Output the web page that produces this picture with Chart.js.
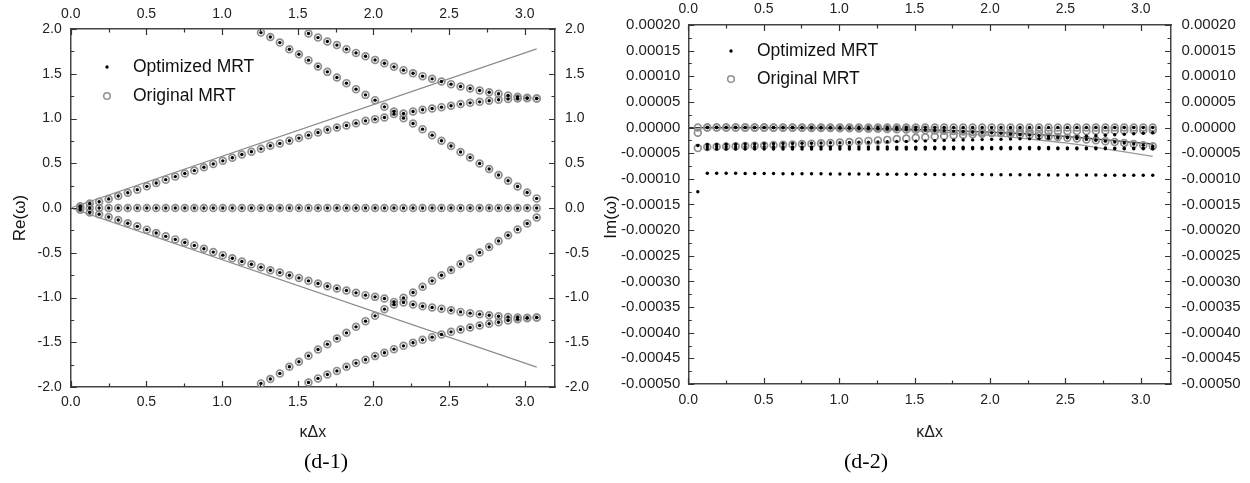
<!DOCTYPE html>
<html>
<head>
<meta charset="utf-8">
<script src="https://cdn.jsdelivr.net/npm/chart.js@4.4.1/dist/chart.umd.min.js"></script>
<style>
  body { margin: 0; background: #fff; width: 1250px; height: 483px; overflow: hidden; position: relative; }
  canvas { position: absolute; top: 0; }
  #reChart { left: 0; }
  #imChart { left: 595px; }
  .cap { position: absolute; top: 448px; font-family: 'Liberation Serif', 'Times New Roman', serif; font-size: 22px; color: #000; transform: translateX(-50%); white-space: nowrap; }
</style>
</head>
<body>
<canvas id="reChart" width="625" height="483"></canvas>
<canvas id="imChart" width="655" height="483"></canvas>
<div class="cap" style="left:326px">(d-1)</div>
<div class="cap" style="left:866px">(d-2)</div>
<script>
// wave numbers k*dx of the sampled points
const kValues = [0.063, 0.126, 0.188, 0.251, 0.314, 0.377, 0.440, 0.503, 0.565, 0.628,
  0.691, 0.754, 0.817, 0.880, 0.942, 1.005, 1.068, 1.131, 1.194, 1.257,
  1.319, 1.382, 1.445, 1.508, 1.571, 1.634, 1.696, 1.759, 1.822, 1.885,
  1.948, 2.011, 2.073, 2.136, 2.199, 2.262, 2.325, 2.388, 2.450, 2.513,
  2.576, 2.639, 2.702, 2.765, 2.827, 2.890, 2.953, 3.016, 3.079];

const xTicks = [0, 0.5, 1.0, 1.5, 2.0, 2.5, 3.0];
const reTicks = [-2, -1.5, -1, -0.5, 0, 0.5, 1, 1.5, 2];
const imTicks = [0.0002, 0.00015, 0.0001, 0.00005, 0, -0.00005, -0.0001, -0.00015, -0.0002,
  -0.00025, -0.0003, -0.00035, -0.0004, -0.00045, -0.0005];

// ---- Re(omega), panel d-1 ----
// branch values, first point is n (k = kValues[n-1])
const reZero = [0,0,0,0,0,0,0,0,0,0, 0,0,0,0,0,0,0,0,0,0, 0,0,0,0,0,0,0,0,0,0,
  0,0,0,0,0,0,0,0,0,0, 0,0,0,0,0,0,0,0,0];
const reUpperA = [0.02, 0.05, 0.07, 0.10, 0.134, 0.171, 0.205, 0.242, 0.28, 0.317,
  0.351, 0.385, 0.418, 0.455, 0.493, 0.527, 0.561, 0.598, 0.628, 0.661,
  0.695, 0.722, 0.751, 0.781, 0.814, 0.844, 0.874, 0.90, 0.921, 0.948,
  0.974, 0.993, 1.011, 1.049, 1.056, 1.078, 1.097, 1.112, 1.127, 1.142,
  1.161, 1.175, 1.186, 1.198, 1.209, 1.218, 1.223, 1.226, 1.224];
const reLowerA = [-0.02, -0.05, -0.07, -0.10, -0.134, -0.171, -0.205, -0.242, -0.28, -0.317,
  -0.351, -0.385, -0.418, -0.455, -0.493, -0.527, -0.561, -0.598, -0.628, -0.661,
  -0.695, -0.722, -0.751, -0.781, -0.814, -0.844, -0.874, -0.90, -0.921, -0.948,
  -0.974, -0.993, -1.011, -1.049, -1.056, -1.078, -1.097, -1.112, -1.127, -1.142,
  -1.161, -1.175, -1.186, -1.198, -1.209, -1.218, -1.223, -1.226, -1.224];
const reBFirst = 20;
const reUpperB = [1.96, 1.91, 1.848, 1.774, 1.718, 1.652, 1.581, 1.521, 1.458, 1.395,
  1.328, 1.264, 1.205, 1.13, 1.078, 1.004, 0.944, 0.881, 0.814, 0.751,
  0.692, 0.625, 0.565, 0.498, 0.435, 0.368, 0.305, 0.241, 0.174, 0.107];
const reLowerB = [-1.96, -1.91, -1.848, -1.774, -1.718, -1.652, -1.581, -1.521, -1.458, -1.395,
  -1.328, -1.264, -1.205, -1.13, -1.078, -1.004, -0.944, -0.881, -0.814, -0.751,
  -0.692, -0.625, -0.565, -0.498, -0.435, -0.368, -0.305, -0.241, -0.174, -0.107];
const reCFirst = 25;
const reUpperC = [1.949, 1.904, 1.86, 1.82, 1.775, 1.733, 1.696, 1.655, 1.618, 1.577,
  1.54, 1.506, 1.473, 1.443, 1.413, 1.384, 1.357, 1.335, 1.313, 1.294,
  1.276, 1.257, 1.242, 1.231, 1.223];
const reLowerC = [-1.949, -1.904, -1.86, -1.82, -1.775, -1.733, -1.696, -1.655, -1.618, -1.577,
  -1.54, -1.506, -1.473, -1.443, -1.413, -1.384, -1.357, -1.335, -1.313, -1.294,
  -1.276, -1.257, -1.242, -1.231, -1.223];
// sound-speed lines
const reLineK = [0, 3.079];
const reLineUpper = [0, 1.778];
const reLineLower = [0, -1.778];

// ---- Im(omega), panel d-2, in units of 1e-6 ----
const micro = 1e-6;
const imZero = [0,0,0,0,0,0,0,0,0,0, 0,0,0,0,0,0,0,0,0,0, 0,0,0,0,0,0,0,0,0,0,
  0,0,0,0,0,0,0,0,0,0, 0,0,0,0,0,0,0,0,0];
const imFalling = [-10, 0, 0, 0, 0, -0.1, -0.1, -0.1, -0.2, -0.3,
  -0.4, -0.5, -0.7, -0.8, -1.0, -1.2, -1.5, -1.8, -2.1, -2.5,
  -2.9, -3.3, -3.8, -4.3, -4.9, -5.5, -6.2, -6.9, -7.7, -8.5,
  -9.4, -10.3, -11.3, -12.4, -13.5, -14.7, -15.9, -17.2, -18.6, -20.0,
  -21.5, -23.1, -24.8, -26.5, -28.3, -30.2, -32.2, -34.3, -36.5];
const imRising = [-40, -38, -37.5, -37, -36.5, -36, -35.5, -35, -34, -33.5,
  -33, -32, -31.5, -30.5, -30, -29, -28, -27, -26, -25,
  -24, -22.5, -21.5, -20, -19, -17.5, -16.5, -15, -14, -13,
  -12, -11, -10, -9.5, -9, -8.5, -8, -7.5, -7, -7,
  -6.5, -6.5, -6, -6, -5.5, -5.5, -5, -5, -5];
// optimized-only bands start at n = 2
const imUpperBand = [-33, -33, -32.5, -32.5, -32, -32, -31.5, -31.5, -31, -31,
  -30.5, -30.5, -30, -29.5, -29.5, -29, -28.5, -28.5, -28, -27.5,
  -27, -27, -26.5, -26, -25.5, -25, -24.5, -24, -24, -23.5,
  -23, -23, -22.5, -22, -22, -21.5, -21, -20, -19, -18,
  -17, -16, -15, -14, -13, -12, -11, -10];
const imMidBand = [-37.5, -37.5, -37.5, -37.5, -37.5, -37.5, -37.5, -37.5, -37.5, -38,
  -38, -38, -38, -38, -38, -38, -38, -38, -38, -38,
  -38.5, -38.5, -38.5, -38.5, -38.5, -38.5, -38.5, -38.5, -39, -39,
  -39, -39, -39, -39, -39, -39, -39, -39.5, -39.5, -39.5,
  -39.5, -39.5, -39.5, -40, -40, -40, -40, -40];
const imLowBand = [-42, -42, -42, -42, -42, -42, -42, -42, -42, -42,
  -42, -42, -42, -42, -42, -42, -42, -42, -42, -42,
  -42, -42, -42, -42, -41.5, -41.5, -41.5, -41.5, -41.5, -41.5,
  -41.5, -41.5, -41.5, -41.5, -41.5, -41.5, -41.5, -41.5, -41.5, -41.5,
  -41.5, -41.5, -41.5, -41.5, -41.5, -41.5, -41.5, -41.5];
const imDeepBand = [-89, -89, -89, -89, -89.5, -89.5, -89.5, -89.5, -90, -90,
  -90, -90, -90, -90.5, -90.5, -90.5, -90.5, -90.5, -91, -91,
  -91, -91, -91, -91, -91.5, -91.5, -91.5, -91.5, -91.5, -91.5,
  -92, -92, -92, -92, -92, -92, -92.5, -92.5, -92.5, -92.5,
  -92.5, -92.5, -93, -93, -93, -93, -93, -93];
const imFirstColumn = [-35, -125];
// theory curves
const imLineK = [0, 0.25, 0.5, 0.75, 1.0, 1.25, 1.5, 1.75, 2.0, 2.25, 2.5, 2.75, 3.079];
const imLineDark = [0, -0.02, -0.1, -0.45, -1.1, -2.1, -3.7, -5.9, -8.8, -12.5, -17.2, -23.5, -32];
const imLineLight = [0, -0.03, -0.2, -0.8, -1.9, -3.8, -6.5, -10.3, -15.4, -22, -30, -41, -56];

function branch(values, firstN, scale = 1) {
  return values.map((v, i) => ({ x: kValues[firstN - 1 + i], y: v * scale }));
}
function curve(ks, values, scale = 1) {
  return ks.map((k, i) => ({ x: k, y: values[i] * scale }));
}

Chart.defaults.font.family = "'Liberation Sans', Arial, sans-serif";
Chart.defaults.color = '#222';

const dotStyle = { pointRadius: 1.7, pointBackgroundColor: '#000', pointBorderWidth: 0, pointBorderColor: '#000' };
const ringStyle = { pointRadius: 3.4, pointBackgroundColor: 'rgba(255,255,255,0)', pointBorderColor: '#8f8f8f', pointBorderWidth: 1.7 };

// frame ticks (inward), legend and the rotated side titles
const overlay = {
  id: 'overlay',
  afterDatasetsDraw(chart, args, o) {
    const { ctx, chartArea: a, scales } = chart;
    ctx.save();
    ctx.strokeStyle = '#333';
    ctx.lineWidth = 1.2;
    const mids = arr => arr.slice(1).map((v, i) => (v + arr[i]) / 2);
    const xMarks = o.xMajor.map(v => [v, 6]).concat(mids(o.xMajor).map(v => [v, 3.5]));
    const yMarks = o.yMajor.map(v => [v, 6]).concat(mids(o.yMajor).map(v => [v, 3.5]));
    ctx.beginPath();
    xMarks.forEach(([v, len]) => {
      const px = Math.round(scales.x.getPixelForValue(v)) + 0.5;
      ctx.moveTo(px, a.bottom); ctx.lineTo(px, a.bottom - len);
      ctx.moveTo(px, a.top); ctx.lineTo(px, a.top + len);
    });
    yMarks.forEach(([v, len]) => {
      const py = Math.round(scales.y.getPixelForValue(v)) + 0.5;
      ctx.moveTo(a.left, py); ctx.lineTo(a.left + len, py);
      ctx.moveTo(a.right, py); ctx.lineTo(a.right - len, py);
    });
    ctx.stroke();

    // legend
    const lg = o.legend;
    ctx.fillStyle = '#000';
    ctx.beginPath(); ctx.arc(lg.x, lg.y1, 1.7, 0, Math.PI * 2); ctx.fill();
    ctx.strokeStyle = '#8f8f8f'; ctx.lineWidth = 1.5;
    ctx.beginPath(); ctx.arc(lg.x, lg.y2, 3.3, 0, Math.PI * 2); ctx.stroke();
    ctx.fillStyle = '#111';
    ctx.font = "17.5px 'Liberation Sans', Arial, sans-serif";
    ctx.textBaseline = 'middle';
    ctx.textAlign = 'left';
    ctx.fillText('Optimized MRT', lg.textX, lg.y1);
    ctx.fillText('Original MRT', lg.textX, lg.y2);

    // rotated titles
    ctx.font = "17px 'Liberation Sans', Arial, sans-serif";
    ctx.textAlign = 'center';
    o.sideTitles.forEach(t => {
      ctx.save();
      ctx.translate(t.x, t.y);
      ctx.rotate(-Math.PI / 2);
      ctx.fillText(t.text, 0, 0);
      ctx.restore();
    });
    ctx.restore();
  }
};

function makeScales(cfg) {
  const border = { display: true, color: '#444', width: 1.5 };
  const grid = { display: false, drawTicks: false };
  const xCommon = {
    type: 'linear', min: 0, max: cfg.xMax, grid, border,
    afterBuildTicks: s => { s.ticks = xTicks.map(v => ({ value: v })); }
  };
  const yCommon = {
    type: 'linear', min: cfg.yMin, max: cfg.yMax, grid, border,
    afterBuildTicks: s => { s.ticks = cfg.yTicks.map(v => ({ value: v })); }
  };
  const xLabel = { font: { size: 14 }, color: '#222', maxRotation: 0, autoSkip: false, callback: v => v.toFixed(1) };
  const yLabel = { font: { size: cfg.yFont }, color: '#222', autoSkip: false, callback: v => v.toFixed(cfg.yDigits) };
  return {
    x: Object.assign({}, xCommon, {
      position: 'bottom',
      ticks: Object.assign({ padding: cfg.bottomPad }, xLabel),
      title: { display: true, text: 'κΔx', font: { size: 16 }, color: '#222', padding: { top: 0, bottom: 41 } },
      afterFit: s => { s.height = cfg.bottomH; }
    }),
    x2: Object.assign({}, xCommon, {
      position: 'top',
      ticks: Object.assign({ padding: cfg.topPad }, xLabel),
      afterFit: s => { s.height = cfg.topH; }
    }),
    y: Object.assign({}, yCommon, {
      position: 'left',
      ticks: Object.assign({ padding: cfg.leftPad }, yLabel),
      afterFit: s => { s.width = cfg.leftW; }
    }),
    y2: Object.assign({}, yCommon, {
      position: 'right',
      ticks: Object.assign({ padding: cfg.rightPad }, yLabel),
      afterFit: s => { s.width = cfg.rightW; }
    })
  };
}

// panel d-1
const reBranches = [
  branch(reZero, 1), branch(reUpperA, 1), branch(reLowerA, 1),
  branch(reUpperB, reBFirst), branch(reLowerB, reBFirst),
  branch(reUpperC, reCFirst), branch(reLowerC, reCFirst)
].flat();

new Chart(document.getElementById('reChart'), {
  type: 'scatter',
  data: {
    datasets: [
      Object.assign({ label: 'Optimized MRT', data: reBranches, order: 1 }, dotStyle),
      Object.assign({ label: 'Original MRT', data: reBranches, order: 2 }, ringStyle),
      { type: 'line', label: 'upper', data: curve(reLineK, reLineUpper), borderColor: '#8a8a8a', borderWidth: 1.2, pointRadius: 0, order: 3 },
      { type: 'line', label: 'lower', data: curve(reLineK, reLineLower), borderColor: '#8a8a8a', borderWidth: 1.2, pointRadius: 0, order: 3 }
    ]
  },
  options: {
    responsive: false,
    animation: false,
    events: [],
    devicePixelRatio: 1,
    layout: { padding: 0 },
    scales: makeScales({ xMax: 3.2, yMin: -2, yMax: 2, yTicks: reTicks, yDigits: 1, yFont: 14,
      leftW: 70.7, rightW: 70, topH: 29, bottomH: 96, leftPad: 9, rightPad: 10, bottomPad: 7, topPad: 6 }),
    plugins: {
      legend: { display: false },
      tooltip: { enabled: false },
      overlay: {
        xMajor: xTicks, yMajor: reTicks,
        legend: { x: 107, y1: 67, y2: 96, textX: 133 },
        sideTitles: [{ text: 'Re(ω)', x: 20, y: 218 }, { text: 'Im(ω)', x: 611, y: 217 }]
      }
    }
  },
  plugins: [overlay]
});

// panel d-2
const imOriginal = [
  branch(imZero, 1, micro), branch(imFalling, 1, micro), branch(imRising, 1, micro)
].flat();
const imOptimized = [
  branch(imZero.slice(1), 2, micro), branch(imFalling.slice(1), 2, micro),
  branch(imUpperBand, 2, micro), branch(imMidBand, 2, micro),
  branch(imLowBand, 2, micro), branch(imDeepBand, 2, micro),
  imFirstColumn.map(v => ({ x: kValues[0], y: v * micro }))
].flat();

new Chart(document.getElementById('imChart'), {
  type: 'scatter',
  data: {
    datasets: [
      Object.assign({ label: 'Optimized MRT', data: imOptimized, order: 1 }, dotStyle),
      Object.assign({ label: 'Original MRT', data: imOriginal, order: 2 }, ringStyle),
      { type: 'line', label: 'theory 1', data: curve(imLineK, imLineDark, micro), borderColor: '#3a3a3a', borderWidth: 1.3, pointRadius: 0, tension: 0.4, order: 3 },
      { type: 'line', label: 'theory 2', data: curve(imLineK, imLineLight, micro), borderColor: '#9a9a9a', borderWidth: 1.3, pointRadius: 0, tension: 0.4, order: 3 }
    ]
  },
  options: {
    responsive: false,
    animation: false,
    events: [],
    devicePixelRatio: 1,
    layout: { padding: 0 },
    scales: makeScales({ xMax: 3.2, yMin: -0.0005, yMax: 0.0002, yTicks: imTicks, yDigits: 5, yFont: 15,
      leftW: 93.3, rightW: 79, topH: 25, bottomH: 99, leftPad: 8, rightPad: 10.5, bottomPad: 8, topPad: 7 }),
    plugins: {
      legend: { display: false },
      tooltip: { enabled: false },
      overlay: {
        xMajor: xTicks, yMajor: imTicks,
        legend: { x: 136, y1: 51, y2: 79, textX: 162 },
        sideTitles: []
      }
    }
  },
  plugins: [overlay]
});
</script>
</body>
</html>
